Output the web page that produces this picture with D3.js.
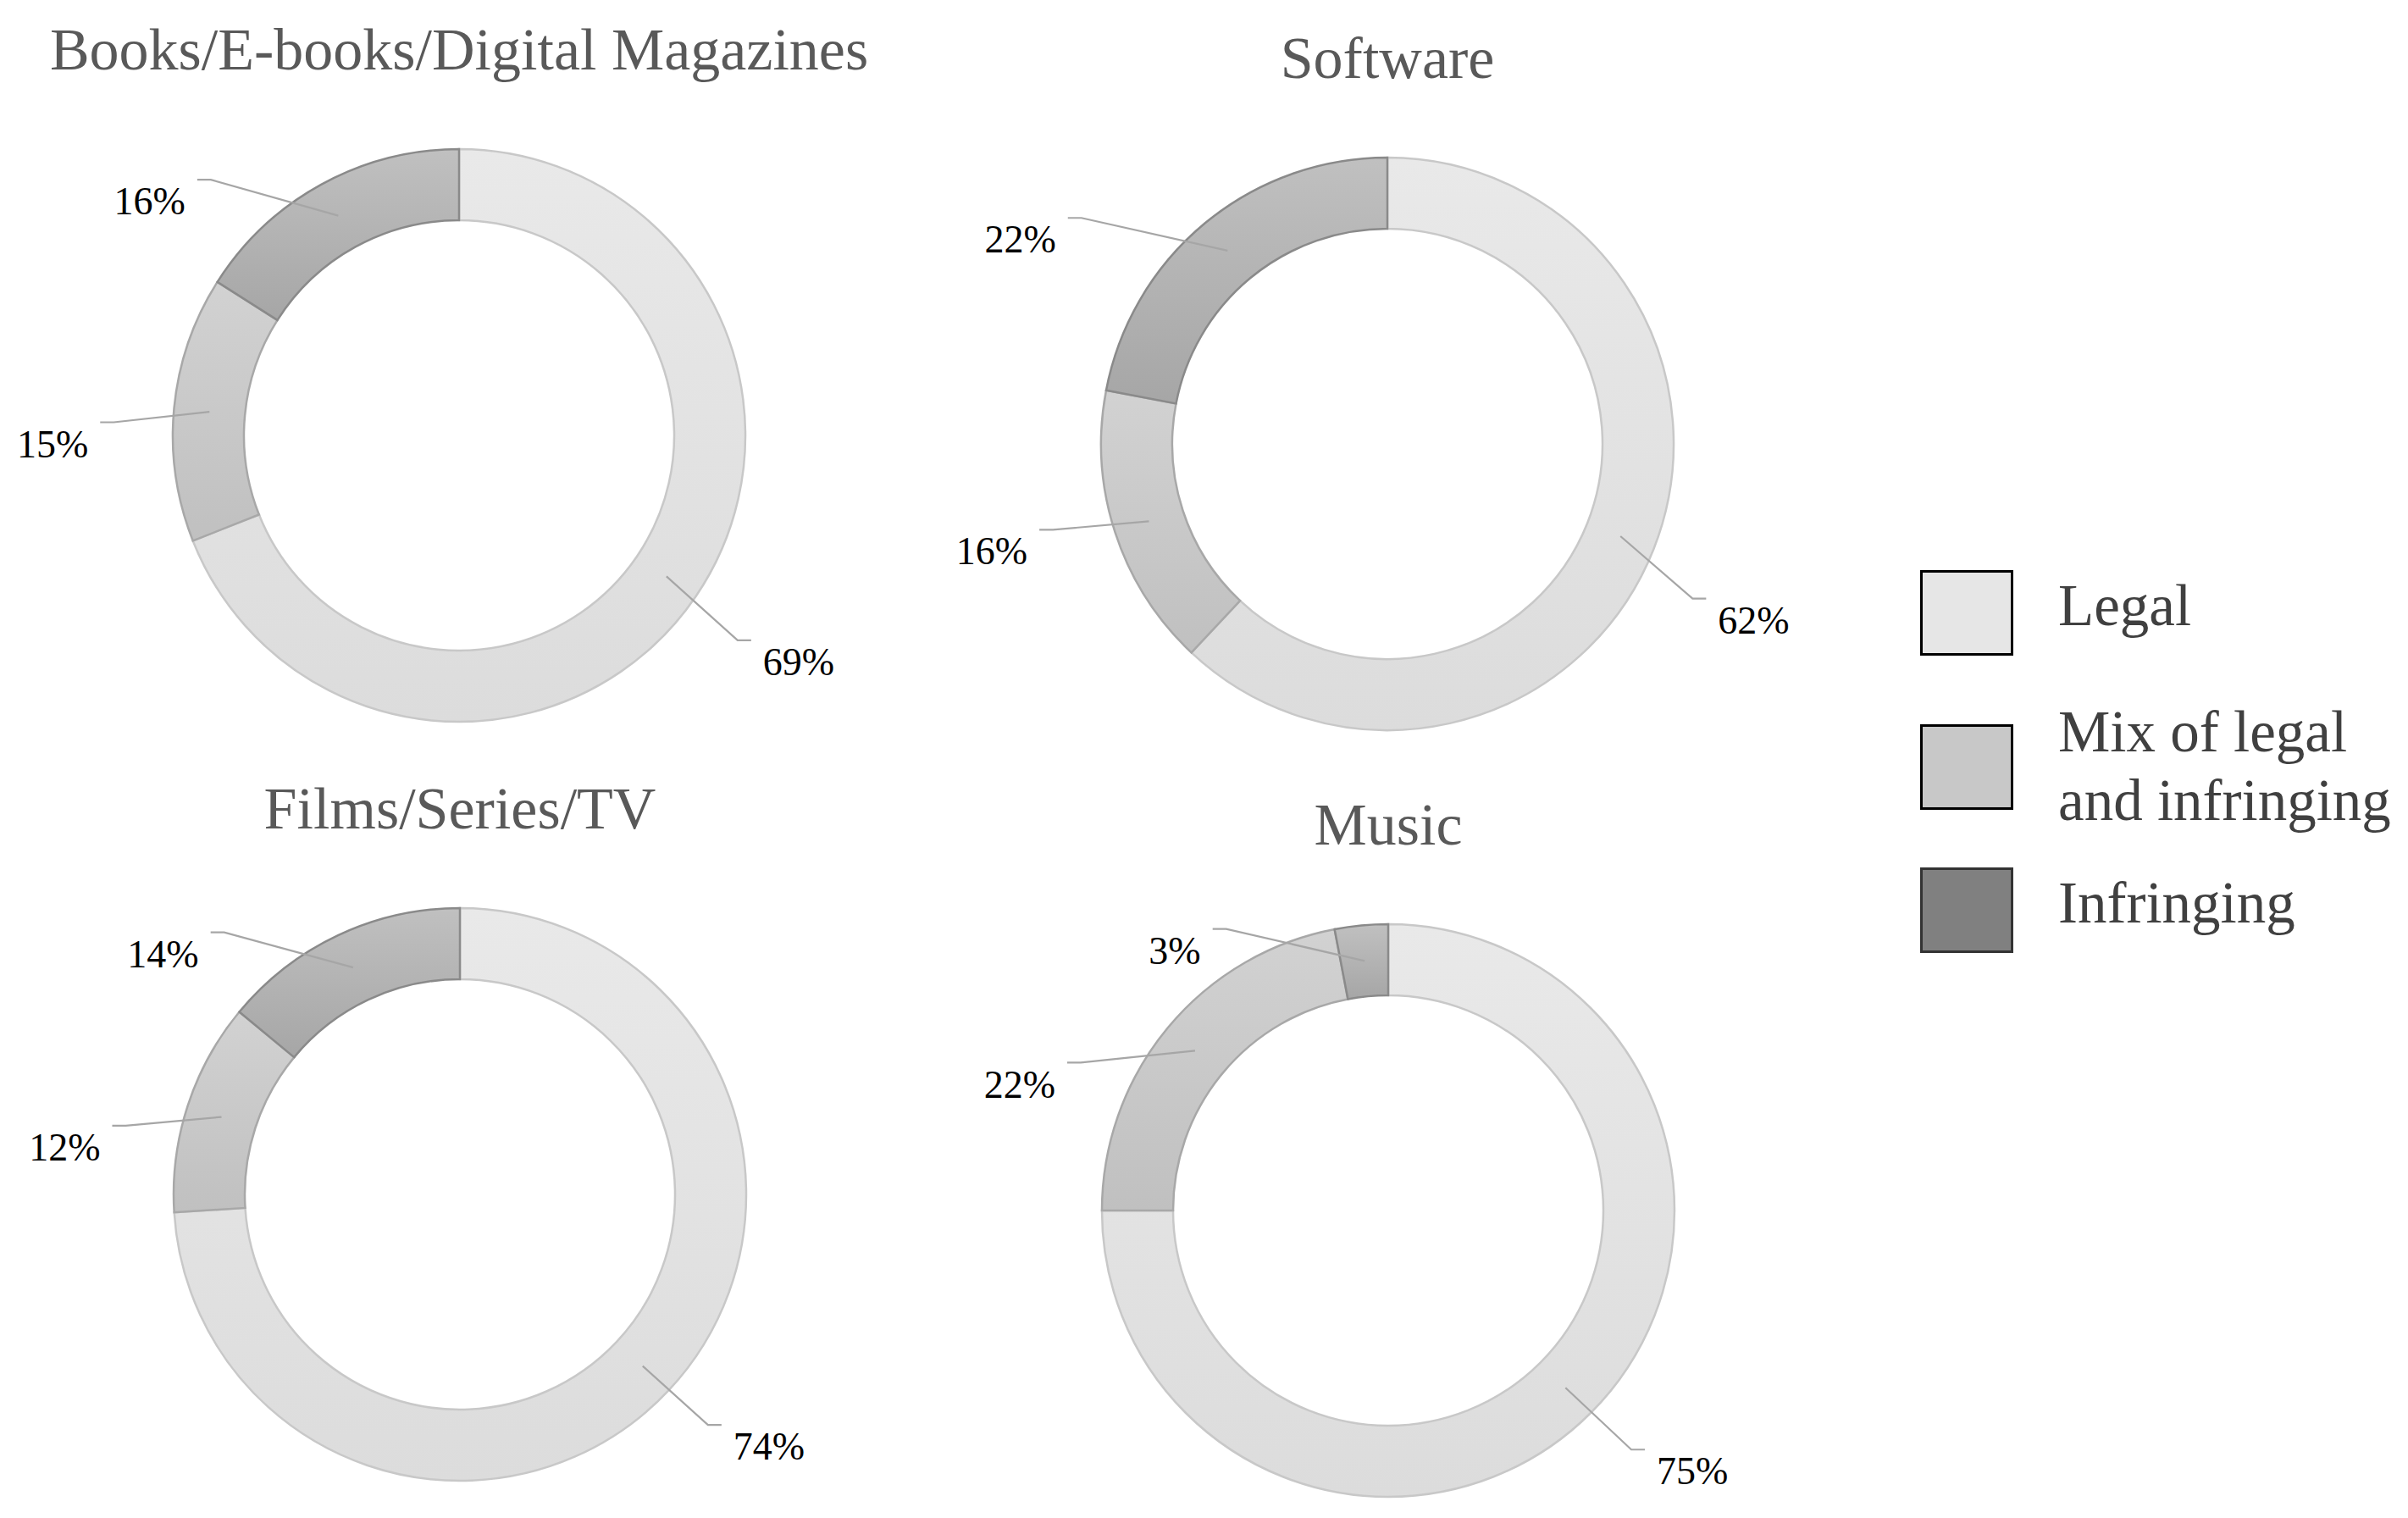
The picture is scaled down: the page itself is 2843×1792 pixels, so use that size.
<!DOCTYPE html>
<html>
<head>
<meta charset="utf-8">
<script src="https://cdn.jsdelivr.net/npm/d3@7"></script>
<style>
  body { margin: 0; background: #fff; }
  text { font-family: "Liberation Serif", "Times New Roman", serif; }
</style>
</head>
<body>
<svg id="chart" width="2843" height="1792"></svg>
<script>
// --- Data ---
const categories = ["Legal", "Mix of legal and infringing", "Infringing"];
const legendLines = [["Legal"], ["Mix of legal", "and infringing"], ["Infringing"]];
const chartTitles = ["Books/E-books/Digital Magazines", "Software", "Films/Series/TV", "Music"];
const legalShare = [69, 62, 74, 75];
const mixShare = [15, 16, 12, 22];
const infringingShare = [16, 22, 14, 3];

// --- Layout ---
const width = 2843, height = 1792;
const outerR = 338, innerR = 254;
const panelCenters = [[542, 514], [1638, 524], [543, 1410], [1639, 1429]];
// label spot per chart per category: [angle in degrees clockwise from top, distance from centre]
const labelSpots = [
  [[123.7, 482], [268.8, 480], [307.1, 458]],
  [[115.7, 480], [254.8, 484], [299.1, 496]],
  [[129.2, 471], [276.8, 470], [309.0, 451]],
  [[130.6, 473], [288.9, 460], [320.6, 397]]
];
const legendTops = [0, 182, 351];

const sliceFill = [["#e9e9e9", "#dcdcdc"], ["#d2d2d2", "#c0c0c0"], ["#c0c0c0", "#a6a6a6"]];
const sliceStroke = ["#c8c8c8", "#a8a8a8", "#8a8a8a"];
const legendFill = ["#e6e6e6", "#c8c8c8", "#808080"];
const legendStroke = ["#000", "#000", "#333"];

const svg = d3.select("#chart");
svg.append("rect").attr("width", width).attr("height", height).attr("fill", "#fff");

const defs = svg.append("defs");
sliceFill.forEach((c, i) => {
  const grad = defs.append("linearGradient")
    .attr("id", `grad-${i}`)
    .attr("x1", 0).attr("y1", 0).attr("x2", 0).attr("y2", 1);
  grad.append("stop").attr("offset", "0%").attr("stop-color", c[0]);
  grad.append("stop").attr("offset", "100%").attr("stop-color", c[1]);
});

const pie = d3.pie().sort(null).value(d => d.value);
const arc = d3.arc().innerRadius(innerR).outerRadius(outerR);
const labelSize = 46;

function polar(angleRad, r) {
  return [r * Math.sin(angleRad), -r * Math.cos(angleRad)];
}

chartTitles.forEach((title, ci) => {
  const [cx, cy] = panelCenters[ci];
  const rows = [legalShare[ci], mixShare[ci], infringingShare[ci]]
    .map((v, k) => ({ value: v, k }));
  const arcs = pie(rows);

  const g = svg.append("g").attr("transform", `translate(${cx},${cy})`);

  g.append("text")
    .attr("x", 0)
    .attr("y", -432)
    .attr("text-anchor", "middle")
    .attr("fill", "#595959")
    .style("font-size", "70px")
    .text(title);

  g.selectAll("path.slice")
    .data(arcs)
    .enter()
    .append("path")
    .attr("class", "slice")
    .attr("d", arc)
    .attr("fill", d => `url(#grad-${d.data.k})`)
    .attr("stroke", d => sliceStroke[d.data.k])
    .attr("stroke-width", 2.5)
    .attr("stroke-linejoin", "miter");

  arcs.forEach(d => {
    const k = d.data.k;
    const [deg, dist] = labelSpots[ci][k];
    const [lx, ly] = polar(deg * Math.PI / 180, dist);

    const label = g.append("text")
      .attr("x", lx)
      .attr("y", ly + labelSize * 0.338)
      .attr("text-anchor", "middle")
      .attr("fill", "#000")
      .style("font-size", `${labelSize}px`)
      .text(`${d.data.value}%`);

    const w = label.node().getComputedTextLength();
    const mid = (d.startAngle + d.endAngle) / 2;
    const start = polar(mid, (innerR + outerR) / 2);
    const segY = ly - labelSize * 0.338 - 10;
    const onLeft = lx < 0;
    const segEndX = onLeft ? lx + w / 2 + 14 : lx - w / 2 - 14;
    const elbowX = onLeft ? segEndX + 16 : segEndX - 16;

    g.append("path")
      .attr("d", d3.line()([start, [elbowX, segY], [segEndX, segY]]))
      .attr("fill", "none")
      .attr("stroke", "#a6a6a6")
      .attr("stroke-width", 2.2);
  });
});

// --- Legend ---
const legend = svg.append("g").attr("transform", "translate(2267,673)");
const boxW = 110, boxH = 101, legendLine = 81;

const item = legend.selectAll("g.item")
  .data(categories)
  .enter()
  .append("g")
  .attr("class", "item")
  .attr("transform", (d, i) => `translate(0,${legendTops[i]})`);

item.append("rect")
  .attr("x", 1.5)
  .attr("y", 1.5)
  .attr("width", boxW - 3)
  .attr("height", boxH - 3)
  .attr("fill", (d, i) => legendFill[i])
  .attr("stroke", (d, i) => legendStroke[i])
  .attr("stroke-width", 3);

item.each(function(d, i) {
  const lines = legendLines[i];
  const extra = lines.length - 1;
  const firstBase = boxH / 2 + 14 - extra * legendLine / 2 + extra * 8;
  const t = d3.select(this).append("text")
    .attr("fill", "#404040")
    .style("font-size", "69px");
  lines.forEach((ln, j) => {
    t.append("tspan")
      .attr("x", 163)
      .attr("y", firstBase + j * legendLine)
      .text(ln);
  });
});
</script>
</body>
</html>
